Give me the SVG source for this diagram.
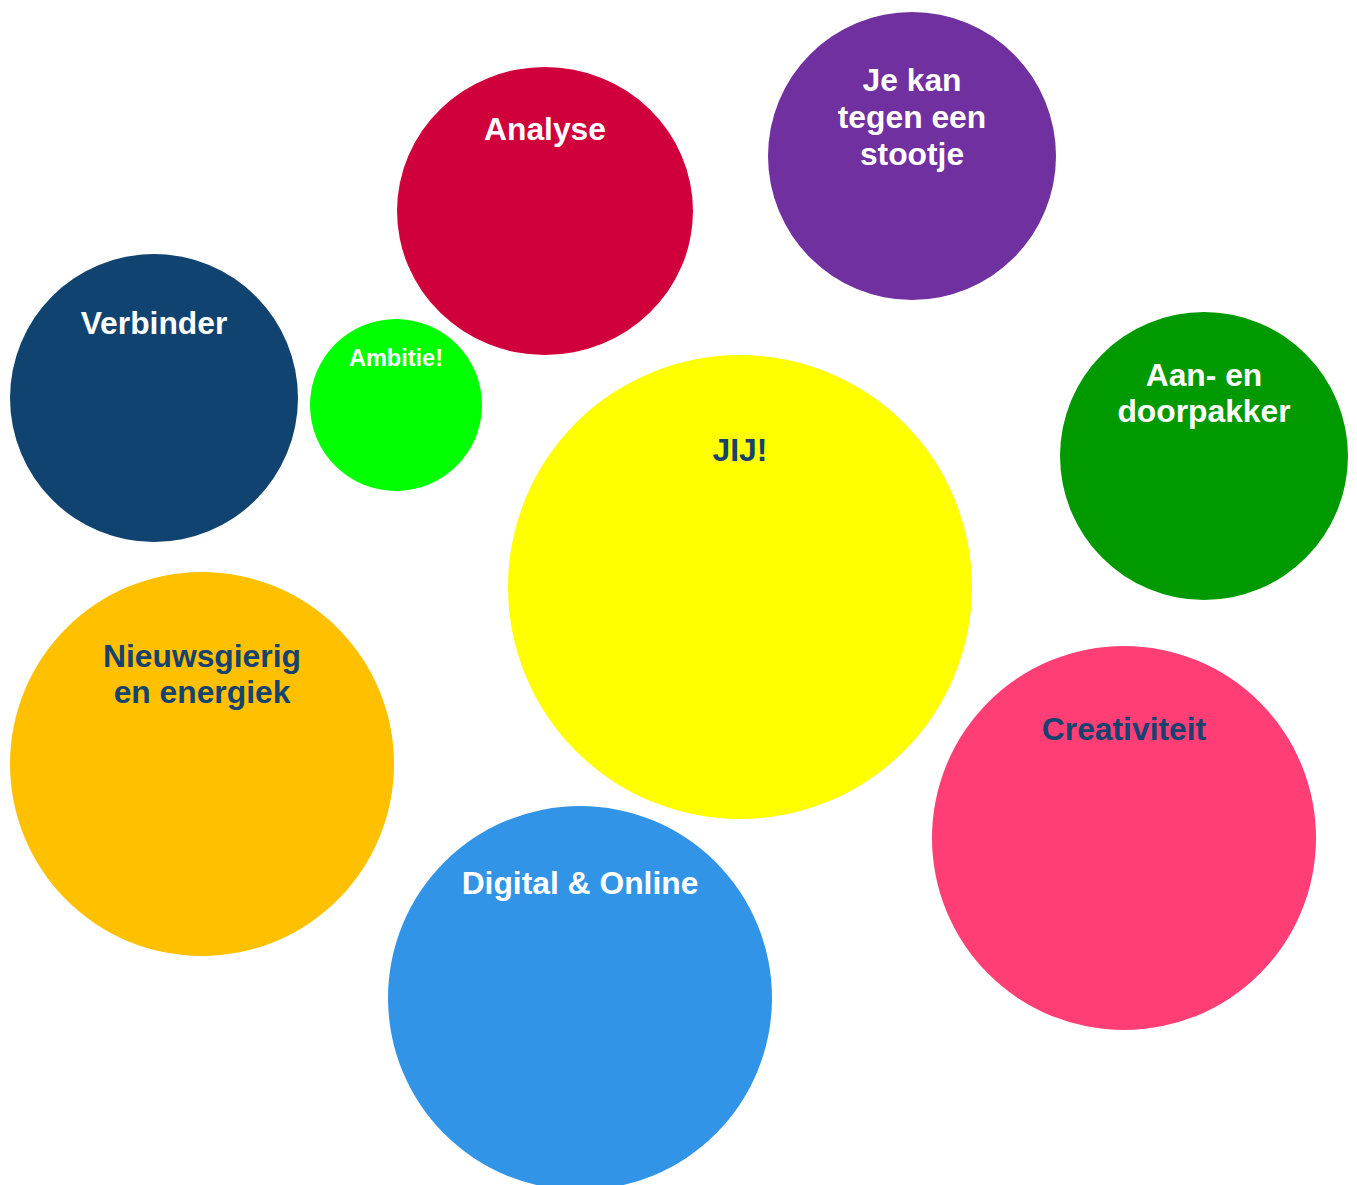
<svg xmlns="http://www.w3.org/2000/svg" width="1357" height="1185" viewBox="0 0 1357 1185">
<style>
text{font-family:"Liberation Sans",Arial,sans-serif;font-weight:bold;font-size:31.8px;text-anchor:middle}
.w{fill:#ffffff}
.d{fill:#15426F}
</style>
<rect width="1357" height="1185" fill="#ffffff"/>
<g id="connectors"></g>
<g id="analyse"><ellipse cx="545" cy="211" rx="148" ry="144" fill="#D0003C"/><text class="w" x="545" y="140">Analyse</text></g>
<g id="stootje"><circle cx="912" cy="156" r="144" fill="#7030A0"/><text class="w" x="912" y="91">Je kan</text><text class="w" x="912" y="128">tegen een</text><text class="w" x="912" y="165">stootje</text></g>
<g id="verbinder"><circle cx="154" cy="398" r="144" fill="#10436F"/><text class="w" x="154" y="334">Verbinder</text></g>
<g id="ambitie"><circle cx="396" cy="405" r="86" fill="#00FF00"/><text class="w" x="396" y="366" style="font-size:23.5px">Ambitie!</text></g>
<g id="jij"><circle cx="740" cy="587" r="232" fill="#FFFF00"/><text class="d" x="740" y="461">JIJ!</text></g>
<g id="doorpakker"><circle cx="1204" cy="456" r="144" fill="#009900"/><text class="w" x="1204" y="386">Aan- en</text><text class="w" x="1204" y="422">doorpakker</text></g>
<g id="nieuwsgierig"><circle cx="202" cy="764" r="192" fill="#FFC000"/><text class="d" x="202" y="667">Nieuwsgierig</text><text class="d" x="202" y="703">en energiek</text></g>
<g id="creativiteit"><circle cx="1124" cy="838" r="192" fill="#FF3E76"/><text class="d" x="1124" y="740">Creativiteit</text></g>
<g id="digital"><circle cx="580" cy="998" r="192" fill="#3194E6"/><text class="w" x="580" y="894">Digital &amp; Online</text></g>
</svg>
